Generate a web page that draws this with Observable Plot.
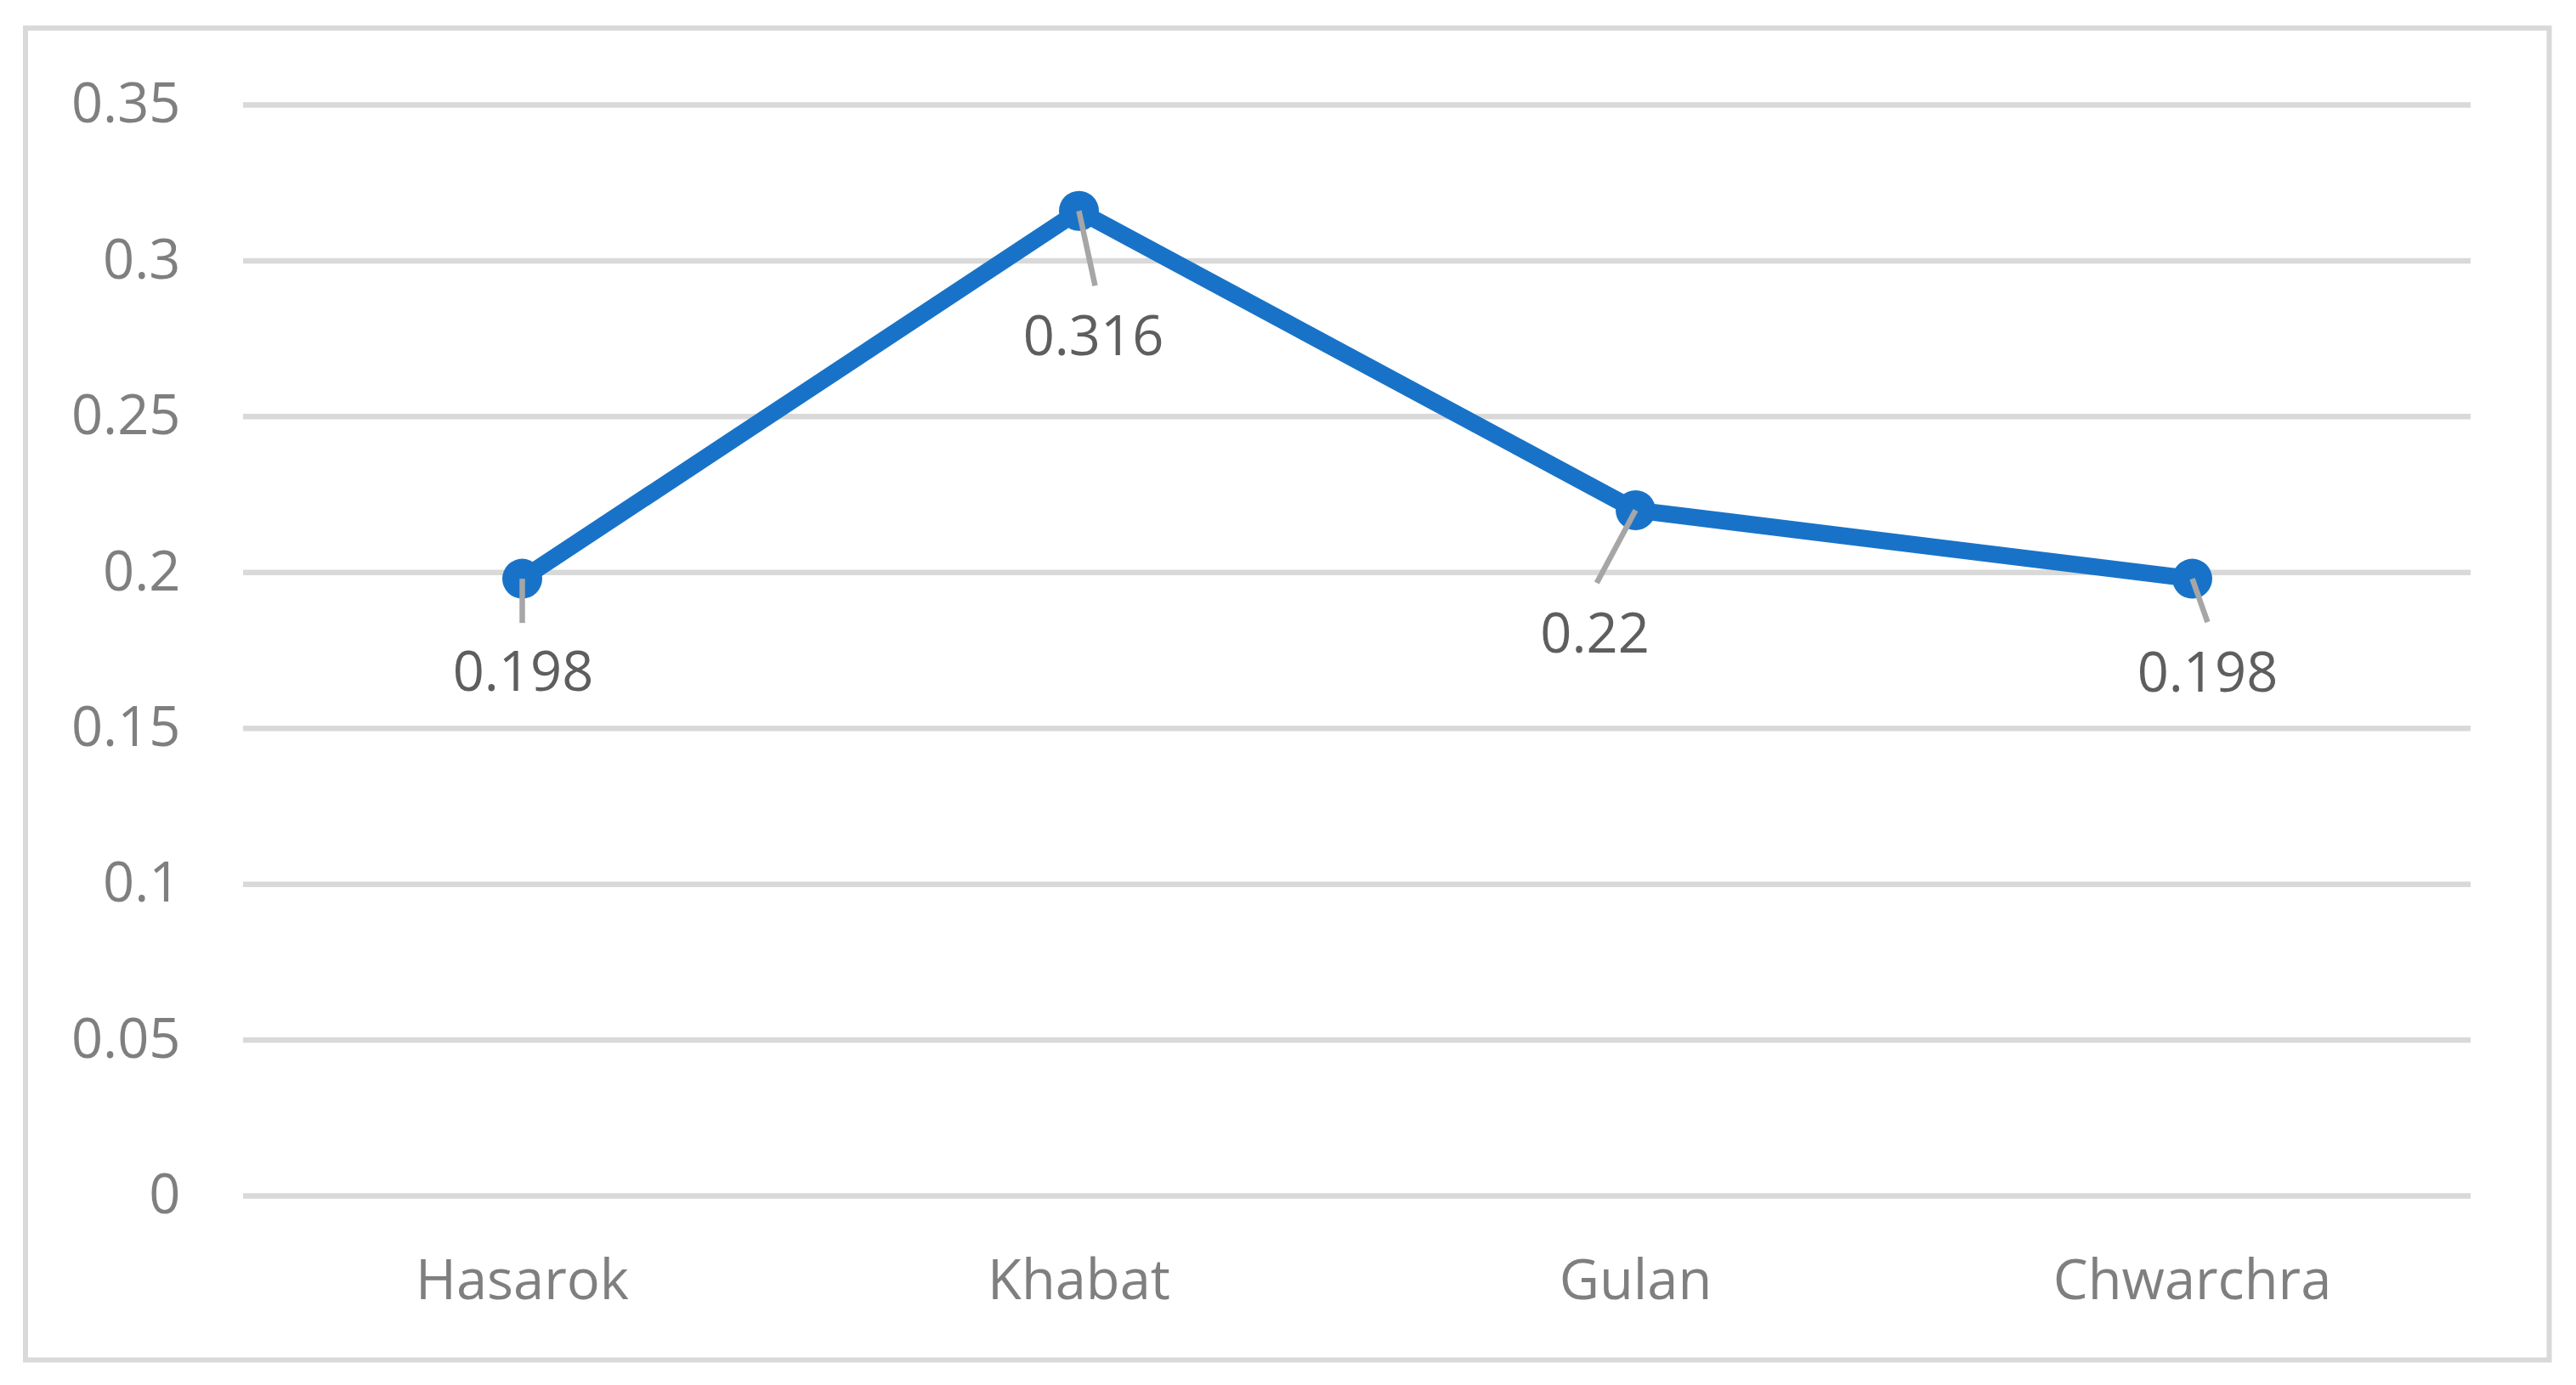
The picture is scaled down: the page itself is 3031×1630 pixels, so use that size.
<!DOCTYPE html>
<html>
<head>
<meta charset="utf-8">
<script src="https://cdn.jsdelivr.net/npm/d3@7"></script>
<script src="https://cdn.jsdelivr.net/npm/@observablehq/plot@0.6"></script>
<style>
  html, body { margin: 0; padding: 0; background: #ffffff; }
  #chart { width: 3031px; height: 1630px; }
</style>
</head>
<body>
<div id="chart"></div>
<script>
// ---- data ----
const categories = ["Hasarok", "Khabat", "Gulan", "Chwarchra"];
const values = [0.198, 0.316, 0.22, 0.198];
const yTicks = [0, 0.05, 0.1, 0.15, 0.2, 0.25, 0.3, 0.35];

const data = categories.map((c, i) => ({ cat: c, value: values[i], label: String(values[i]) }));

// ---- layout of the manually placed data labels (pixel offsets from each point) ----
const labelLayout = [
  { dx: 1,   dy: 111, leaderLen: 52, leaderRot: 180 },
  { dx: 17,  dy: 149, leaderLen: 90, leaderRot: 167.8 },
  { dx: -48, dy: 147, leaderLen: 97, leaderRot: 208.1 },
  { dx: 18,  dy: 112, leaderLen: 54, leaderRot: 160.6 }
];

const blue = "#1873c8";
const fontFamily = "'Open Sans', 'Noto Sans', sans-serif";

const leaderShape = {
  draw(context, l) {
    context.moveTo(0, 0);
    context.lineTo(0, -l);
  }
};

const labelMarks = data.flatMap((d, i) => {
  const L = labelLayout[i];
  return [
    Plot.vector([d], {
      x: "cat", y: "value",
      length: L.leaderLen, rotate: L.leaderRot,
      anchor: "start", shape: leaderShape,
      stroke: "#a6a6a6", strokeWidth: 6.5, strokeLinecap: "butt"
    }),
    Plot.text([d], {
      x: "cat", y: "value", text: "label",
      dx: L.dx, dy: L.dy,
      fontSize: 65, fill: "#5e5e5e"
    })
  ];
});

const chart = Plot.plot({
  width: 3031,
  height: 1630,
  marginLeft: 286,
  marginRight: 124,
  marginTop: 123,
  marginBottom: 223,
  style: { fontFamily, background: "#ffffff", overflow: "visible" },
  x: { type: "point", domain: categories, padding: 0.5, label: null },
  y: { domain: [0, 0.35], label: null },
  marks: [
    Plot.frame({
      stroke: "#d9d9d9", strokeWidth: 6, fill: "none",
      insetLeft: -256.5, insetTop: -90.5, insetRight: -92, insetBottom: -193
    }),
    Plot.gridY({ ticks: yTicks, stroke: "#d9d9d9", strokeOpacity: 1, strokeWidth: 6.5 }),
    Plot.axisY({
      ticks: yTicks, tickSize: 0, tickPadding: 74,
      tickFormat: d => String(d),
      fontSize: 65, fill: "#7f7f7f", label: null
    }),
    Plot.axisX({
      tickSize: 0, tickPadding: 75,
      fontSize: 65, fill: "#7f7f7f", label: null
    }),
    Plot.line(data, { x: "cat", y: "value", stroke: blue, strokeWidth: 20, strokeLinejoin: "round" }),
    Plot.dot(data, { x: "cat", y: "value", r: 23.5, fill: blue, stroke: null }),
    ...labelMarks
  ]
});

document.getElementById("chart").appendChild(chart);
</script>
</body>
</html>
